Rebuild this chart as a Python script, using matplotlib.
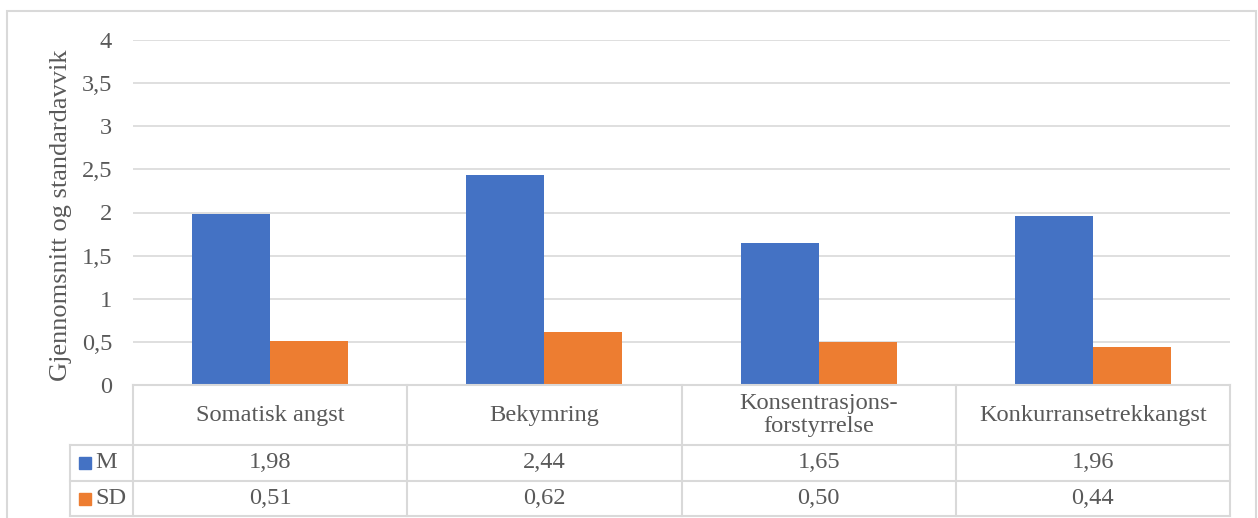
import matplotlib.pyplot as plt
import matplotlib.transforms as mtransforms
from matplotlib.patches import Rectangle
import numpy as np

plt.rcParams['font.family'] = ['Liberation Serif', 'DejaVu Serif']

categories = ['Somatisk angst', 'Bekymring', 'Konsentrasjons-\nforstyrrelse', 'Konkurransetrekkangst']
series = ['M', 'SD']
mean_vals = [1.98, 2.44, 1.65, 1.96]
sd_vals = [0.51, 0.62, 0.50, 0.44]
yticks = [0, 0.5, 1, 1.5, 2, 2.5, 3, 3.5, 4]

blue = '#4472C4'
orange = '#ED7D31'
txt = '#595959'
grid = '#D9D9D9'
fs = 17.6

W, H = 1258, 518
fig = plt.figure(figsize=(W / 100, H / 100), dpi=100)

def fx(px):
    return px / W

def fy(py):
    return 1 - py / H

# plot area
x0, x1, ytop, ybot = 133, 1230, 40, 385
ax = fig.add_axes([fx(x0), fy(ybot), fx(x1) - fx(x0), fy(ytop) - fy(ybot)])

x = np.arange(len(categories))
bw = 0.284
ax.bar(x - bw / 2, mean_vals, bw, color=blue, zorder=3)
ax.bar(x + bw / 2, sd_vals, bw, color=orange, zorder=3)

ax.set_xlim(-0.5, len(categories) - 0.5)
ax.set_ylim(0, 4)
ax.set_yticks(yticks)
ax.set_yticklabels([f'{t:g}'.replace('.', ',') for t in yticks], color=txt, fontsize=fs)
ax.tick_params(axis='y', length=0, pad=15)
ax.set_xticks([])
ax.grid(axis='y', color=grid, linewidth=1.2, zorder=0)
for s in ['top', 'right', 'left', 'bottom']:
    ax.spines[s].set_visible(False)

fig.text(fx(61), fy(215), 'Gjennomsnitt og standardavvik', rotation=90,
         ha='center', va='center', color=txt, fontsize=19)

# data table below the axis: x in data units, y in figure fraction
tr = mtransforms.blended_transform_factory(ax.transData, fig.transFigure)
row_cat, row_m, row_sd, row_end = 385, 445, 481, 516
lc = dict(color=grid, linewidth=1.5, transform=tr, clip_on=False)
xl, xr = -0.5, len(categories) - 0.5
legend_left = ax.transData.inverted().transform((fx(70) * W, 0))[0]

fig.lines.append(plt.Line2D([xl, xr], [fy(row_cat)] * 2, **lc))
for yy in (row_m, row_sd, row_end):
    fig.lines.append(plt.Line2D([legend_left, xr], [fy(yy)] * 2, **lc))
for b in np.arange(len(categories) + 1) - 0.5:
    fig.lines.append(plt.Line2D([b, b], [fy(row_cat), fy(row_end)], **lc))
fig.lines.append(plt.Line2D([legend_left, legend_left], [fy(row_m), fy(row_end)], **lc))

for i, c in enumerate(categories):
    fig.text(x[i], fy((row_cat + row_m) / 2), c, transform=tr, ha='center', va='center',
             color=txt, fontsize=fs, linespacing=1.15)
    fig.text(x[i], fy((row_m + row_sd) / 2), f'{mean_vals[i]:.2f}'.replace('.', ','),
             transform=tr, ha='center', va='center', color=txt, fontsize=fs)
    fig.text(x[i], fy((row_sd + row_end) / 2), f'{sd_vals[i]:.2f}'.replace('.', ','),
             transform=tr, ha='center', va='center', color=txt, fontsize=fs)

# legend keys in the first column
for name, col, (ra, rb) in zip(series, [blue, orange], [(row_m, row_sd), (row_sd, row_end)]):
    yc = (ra + rb) / 2
    fig.patches.append(Rectangle((fx(79), fy(yc + 6)), fx(12), 12 / H, color=col,
                                 transform=fig.transFigure))
    fig.text(fx(95), fy(yc), name, ha='left', va='center', color=txt, fontsize=fs)

# chart border
fig.patches.append(Rectangle((fx(7), fy(530)), fx(1256 - 7), (530 - 11) / H, fill=False,
                             edgecolor=grid, linewidth=1.5, transform=fig.transFigure))

fig.savefig('out.png', dpi=100)
